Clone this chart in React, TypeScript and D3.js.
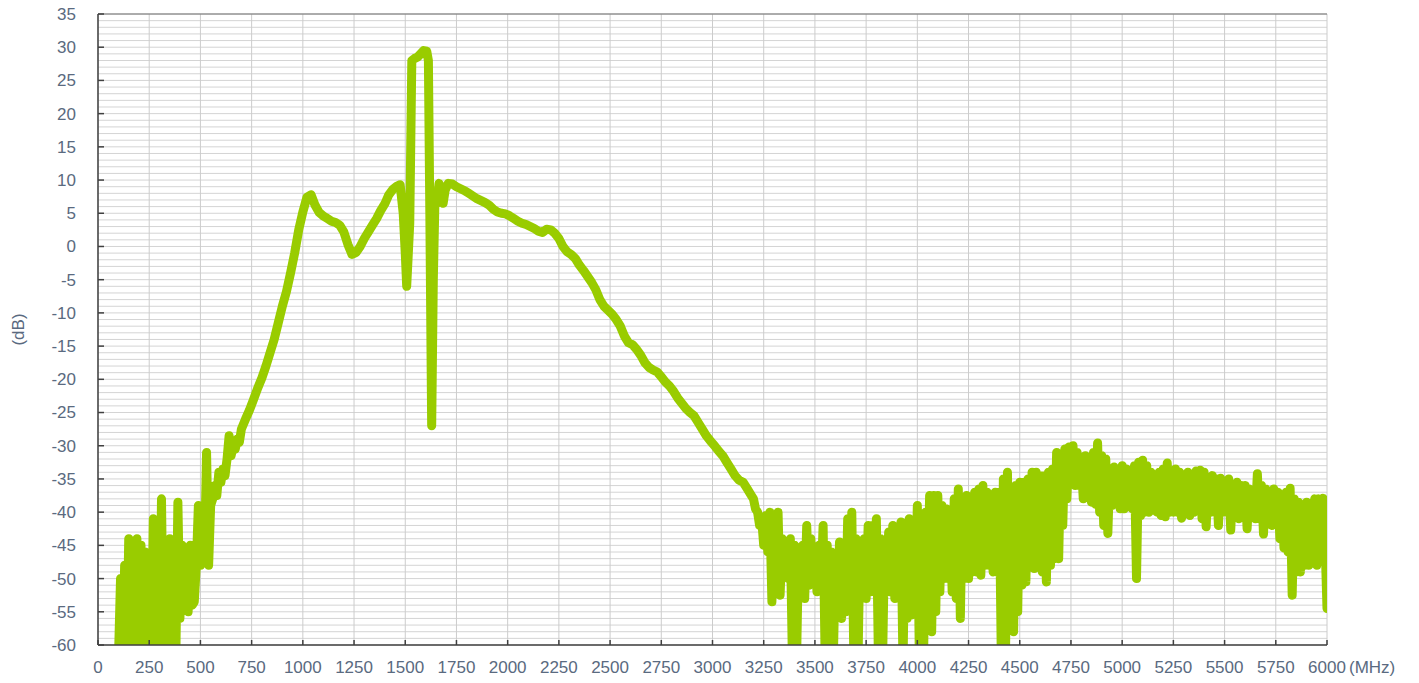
import React from "react";
import * as d3 from "d3";

// Sweep grid of the noisy low band (MHz)
const lowBandStart = 100;
const lowBandStep = 10;
const lowBandDb = [
  -62, -50, -64, -48, -63, -44, -64, -45, -63, -44,
  -64, -45, -63, -46, -62, -47, -64, -41, -63, -46,
  -62, -38, -64, -46, -63, -44, -64, -45, -62, -38.5,
  -56, -45, -54, -46, -55, -45, -54, -53.5, -48, -39,
  -48, -40, -47, -31, -48, -39,
];

// Main passband (MHz, dB)
const mainFreq = [
  560, 570, 580, 590, 600, 610, 620, 630, 640, 650, 660, 670, 680, 690, 700,
  720, 740, 760, 780, 800, 820, 840, 860, 880, 900, 920, 940, 960, 980, 1000,
  1020, 1040, 1060, 1080, 1100, 1120, 1140, 1160, 1180, 1200, 1220, 1240, 1260,
  1280, 1300, 1320, 1340, 1360, 1380, 1400, 1420, 1440, 1460, 1475, 1490, 1500,
  1507, 1515, 1522, 1532, 1545, 1560, 1575, 1590, 1605, 1613, 1620, 1629, 1637,
  1645, 1655, 1665, 1675, 1685, 1695, 1710, 1730, 1750, 1770, 1790, 1810, 1830,
  1850, 1870, 1890, 1910, 1930, 1950, 1970, 1990, 2010, 2030, 2050, 2070, 2090,
  2110, 2130, 2150, 2170, 2190, 2210, 2230, 2250, 2270, 2290, 2310, 2330, 2350,
  2370, 2390, 2410, 2430, 2450, 2470, 2490, 2510, 2530, 2550, 2570, 2590, 2610,
  2630, 2650, 2670, 2690, 2710, 2730, 2750, 2770, 2790, 2810, 2830, 2850, 2870,
  2890, 2910, 2930, 2950, 2970, 2990, 3010, 3030, 3050, 3070, 3090, 3110, 3130,
  3150, 3170, 3190,
];
const mainDb = [
  -38, -36, -37.5, -34, -35.5, -33.5, -34.5, -32, -28.5, -31.5, -30, -30.5, -29, -29.5, -27.5,
  -26, -24.6, -23, -21.3, -19.8, -18, -16, -14, -11.5, -9, -6.8, -4, -1, 2.5, 5.2,
  7.4, 7.8, 6.2, 5.1, 4.6, 4.2, 3.8, 3.6, 3.2, 2.2, 0.3, -1.2, -0.9,
  0, 1.2, 2.2, 3.2, 4.2, 5.4, 6.4, 7.8, 8.6, 9.1, 9.3, 5, -1,
  -6, -1, 3.5, 28, 28.3, 28.5, 29, 29.5, 29.4, 28, 5, -27, -5,
  7, 6.5, 9.5, 8.5, 6.5, 8.5, 9.5, 9.4, 9.0, 8.7, 8.4, 8.0, 7.6,
  7.2, 6.9, 6.6, 6.2, 5.6, 5.2, 5.0, 4.9, 4.6, 4.2, 3.8, 3.5, 3.3,
  3.0, 2.7, 2.3, 2.1, 2.6, 2.5, 2.0, 1.2, 0, -0.8, -1.2, -1.8, -2.8,
  -3.6, -4.5, -5.4, -6.5, -8.0, -9.0, -9.6, -10.2, -11, -12, -13.5, -14.5, -14.8,
  -15.5, -16.4, -17.5, -18.2, -18.6, -18.9, -19.6, -20.4, -21, -21.8, -22.8, -23.6, -24.4,
  -25, -25.5, -26.5, -27.5, -28.5, -29.3, -30, -30.8, -31.5, -32.5, -33.5, -34.5, -35.2,
  -35.5, -36.5, -37.5,
];

// Sweep grid of the noisy high band (MHz)
const highBandStart = 3200;
const highBandStep = 10;
const highBandDb = [
  // 3200
  -38, -39.5, -40, -42, -41, -45, -40.5, -46, -40, -53.5,
  // 3300
  -41, -47, -40, -52.5, -44, -49, -44.5, -50, -44, -62,
  // 3400
  -45, -63, -46, -52, -45, -53, -42, -51, -44, -50,
  // 3500
  -46, -52, -45, -51, -42, -62, -45, -63, -46, -62,
  // 3600
  -47, -55, -44.5, -56, -46, -55, -41, -54, -40, -62,
  // 3700
  -44, -63, -45, -52, -44, -53, -42, -52, -42, -51,
  // 3800
  -41, -62, -44, -63, -45, -52, -43, -52, -42, -53,
  // 3900
  -44, -52, -41.5, -63, -42.5, -56, -41, -55.5, -42, -53,
  // 4000
  -39, -62, -41, -63, -40, -52, -37.5, -58, -37.5, -55,
  // 4100
  -37.5, -52, -39, -50, -39.5, -50, -40, -52, -38, -53,
  // 4200
  -36.5, -56, -38, -50, -37.5, -50, -38, -49, -37, -49,
  // 4300
  -36.5, -49.5, -36, -48, -37, -48, -38, -49, -37, -49,
  // 4400
  -37, -62, -35, -63, -34, -57, -37, -58, -36, -55,
  // 4500
  -35.5, -51, -35.5, -50.5, -35, -48, -34, -48.5, -34, -48,
  // 4600
  -34.5, -49, -34.5, -50.5, -34, -48, -33.5, -47, -31, -47,
  // 4700
  -32, -42, -30.5, -38, -30.2, -35, -30, -36, -31, -36,
  // 4800
  -32, -38, -31.5, -37, -33, -38.5, -31, -38.8, -29.6, -40,
  // 4900
  -31.5, -42, -32, -43.2, -33.5, -39, -33.2, -38.5, -34, -39.5,
  // 5000
  -33, -39.5, -33.5, -39, -35, -39.5, -33, -50, -32.5, -40.5,
  // 5100
  -32.2, -40, -33, -40, -34, -39.5, -34.5, -40, -34, -40.5,
  // 5200
  -33.5, -40.7, -32.6, -40, -34, -40, -33.5, -40, -34, -40.9,
  // 5300
  -34.5, -40, -34, -40.5, -35, -40, -33.8, -39.5, -33.7, -41,
  // 5400
  -34, -42.2, -35, -40, -34.5, -40, -35, -42, -34.9, -40,
  // 5500
  -36, -40, -35, -42.7, -36, -40, -35.5, -41, -36, -40,
  // 5600
  -36, -42.5, -36.5, -40, -37, -41, -34.2, -41, -36, -43.3,
  // 5700
  -36.5, -40, -37, -42, -36.5, -41, -37, -44, -38, -45.4,
  // 5800
  -37, -46, -36.4, -52.5, -38, -49, -38.5, -49, -39, -48,
  // 5900
  -38.5, -48, -39, -47.7, -38, -48, -38, -47, -37.9, -44,
  // 6000
  -54.5,
];

const xTicks = d3.range(0, 6001, 250);
const yTicks = d3.range(-60, 36, 5);
const yMinor = d3.range(-60, 36, 1);

const W = 1419;
const H = 683;
const plot = { left: 98, right: 1327, top: 14, bottom: 645 };
const textColor = "#5a6a80";
const font = "'Liberation Sans', Arial, sans-serif";

export default function App() {
  const x = d3.scaleLinear().domain([0, 6000]).range([plot.left, plot.right]);
  const y = d3.scaleLinear().domain([-60, 35]).range([plot.bottom, plot.top]);

  const points: [number, number][] = [];
  lowBandDb.forEach((v, i) => points.push([lowBandStart + i * lowBandStep, v]));
  mainFreq.forEach((f, i) => points.push([f, mainDb[i]]));
  highBandDb.forEach((v, i) => points.push([highBandStart + i * highBandStep, v]));

  const line = d3
    .line<[number, number]>()
    .x((d) => x(d[0]))
    .y((d) => y(d[1]));

  return (
    <svg
      width={W}
      height={H}
      style={{ position: "absolute", left: 0, top: 0, display: "block", background: "#fff" }}
      fontFamily={font}
    >
      <defs>
        <clipPath id="plotClip">
          <rect x={plot.left} y={plot.top} width={plot.right - plot.left} height={plot.bottom - plot.top} />
        </clipPath>
      </defs>
      {yMinor.map((t) => (
        <line key={"h" + t} x1={plot.left} x2={plot.right} y1={y(t)} y2={y(t)} stroke="#d4d4d4" strokeWidth={1} />
      ))}
      {xTicks.map((t) => (
        <line key={"v" + t} x1={x(t)} x2={x(t)} y1={plot.top} y2={plot.bottom} stroke="#cccccc" strokeWidth={1} />
      ))}
      <line x1={plot.left} x2={plot.right} y1={plot.top} y2={plot.top} stroke="#6e6e6e" strokeWidth={1} />
      <g clipPath="url(#plotClip)">
        <path
          d={line(points) || ""}
          fill="none"
          stroke="#99cc00"
          strokeWidth={9}
          strokeLinejoin="round"
          strokeLinecap="round"
        />
      </g>
      <line x1={plot.left} x2={plot.left} y1={plot.top} y2={plot.bottom} stroke="#404040" strokeWidth={1.5} />
      <line x1={plot.left} x2={plot.right} y1={plot.bottom} y2={plot.bottom} stroke="#404040" strokeWidth={1.5} />
      {yTicks.map((t) => (
        <line key={"yt" + t} x1={plot.left} x2={plot.left + 6} y1={y(t)} y2={y(t)} stroke="#404040" strokeWidth={1.5} />
      ))}
      {xTicks.map((t) => (
        <line key={"xt" + t} x1={x(t)} x2={x(t)} y1={plot.bottom} y2={plot.bottom - 5} stroke="#404040" strokeWidth={1.5} />
      ))}
      {yTicks.map((t) => (
        <text key={"yl" + t} x={76} y={y(t)} dy="0.35em" textAnchor="end" fontSize={17} fill={textColor}>
          {t}
        </text>
      ))}
      {xTicks.map((t) => (
        <text key={"xl" + t} x={x(t)} y={667} dy="0.35em" textAnchor="middle" fontSize={17} fill={textColor}>
          {t}
        </text>
      ))}
      <text x={1349} y={667} dy="0.35em" textAnchor="start" fontSize={17} fill={textColor}>
        (MHz)
      </text>
      <text
        transform={`translate(18, ${(plot.top + plot.bottom) / 2}) rotate(-90)`}
        dy="0.35em"
        textAnchor="middle"
        fontSize={17}
        fill={textColor}
      >
        (dB)
      </text>
    </svg>
  );
}
